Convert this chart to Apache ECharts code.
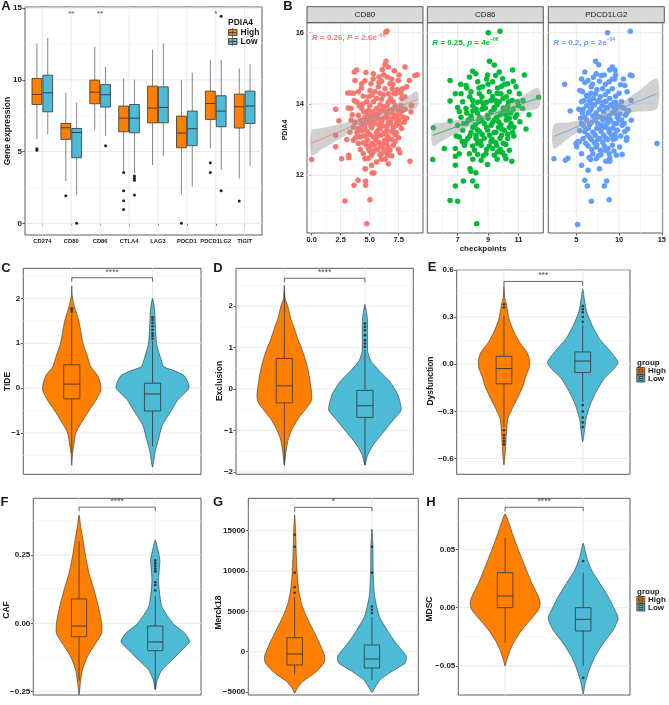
<!DOCTYPE html>
<html>
<head>
<meta charset="utf-8">
<script src="https://cdn.jsdelivr.net/npm/echarts@6/dist/echarts.min.js"></script>
<style>
html,body{margin:0;padding:0;background:#fff}
#main{width:669px;height:705px}
</style>
</head>
<body>
<div id="main"></div>
<script>
// ---------- data ----------
// A: checkpoint expression, [lower whisker, q1, median, q3, upper whisker]
const genes = ['CD274','CD80','CD86','CTLA4','LAG3','PDCD1','PDCD1LG2','TIGIT']
const geneHighBox = [
  [5.85,8.28,8.98,10.09,12.53],[2.95,5.85,6.66,6.96,9.09],[6.5,8.33,9.14,9.98,12.3],[3.6,6.38,7.33,8.17,10.1],
  [4.06,7.0,8.03,9.56,12.1],[2.02,5.27,6.29,7.47,9.98],[5.22,7.24,8.35,9.21,11.37],[3.13,6.64,8.12,9.0,10.79]
]
const geneLowBox = [
  [6.2,7.77,9.09,10.32,12.92],[1.97,4.57,6.33,6.61,8.4],[6.08,8.1,8.96,9.67,10.9],[3.5,6.31,7.33,8.28,10.0],
  [4.7,7.0,8.07,9.51,12.53],[2.55,5.41,6.59,7.82,10.49],[3.71,6.73,7.82,8.89,11.4],[3.99,6.96,8.17,9.21,11.09]
]
// [gene number, group (0 High, 1 Low), value]
const geneOutliers = [
  [1,0,5.2],[1,0,5.1],[2,0,1.93],[2,1,0],[3,1,5.4],[4,0,3.55],[4,0,2.27],[4,0,1.58],[4,0,0.97],
  [4,1,3.3],[4,1,3.15],[4,1,3.0],[4,1,1.97],[6,0,0],[7,0,4.22],[7,0,3.55],[7,1,14.43],[7,1,2.27],[8,0,1.55]
]
const geneSig = [[2,'**'],[3,'**'],[7,'*']]

// B: PDIA4 vs checkpoints
const cd80Pts = [
[6.4,16.02],[6.5,16.05],[0,12.44],[2.07,13.85],[2.35,13.53],[2.07,13.12],[2.07,12.8],[2.58,12.46],[3.2,12.56],[3.2,12.49],[2.87,11.28],[3.65,11.72],[4.0,11.86],[4.65,11.83],[4.65,11.72],[4.74,10.64],[5.03,11.31],[4.6,12.18],[5.23,12.06],[5.37,12.06],[8.47,12.39],[8.9,14.8],[9.1,14.82],[8.42,14.66],[8.2,14.48],[8.04,14.2],[8.6,13.96],[8.56,13.78],
[3.68,14.9],[3.88,14.95],[4.68,14.88],[5.32,14.85],[6.09,14.97],[6.41,15.2],[6.32,15.1],[6.61,15.04],[7.13,14.93],[6.52,14.76],[5.8,14.76],[3.74,14.66],[4.31,14.57],[5.11,14.57],[6.03,14.64],[6.75,14.57],[7.47,14.66],[8.05,15.04],[7.53,14.81],[6.95,14.43],[7.24,14.29],[3.1,14.31],[3.3,14.31],[3.68,14.1],[3.39,13.87],[3.16,13.89],[4.02,14.34],[4.45,14.22],[5.03,14.38],[5.46,14.34],[5.75,14.48],[6.32,14.43],[6.61,14.29],[4.74,14.06],[5.32,14.06],[6.03,14.13],[7.04,14.06],[7.76,14.15],[7.82,14.43],
[4.31,13.87],[4.89,13.82],[5.6,13.87],[6.18,13.92],[6.75,13.82],[7.47,13.82],[8.05,13.85],[4.02,13.68],[4.6,13.63],[5.17,13.68],[5.75,13.73],[6.47,13.68],[7.18,13.68],[7.9,13.63],[3.74,13.49],[4.31,13.45],[4.89,13.49],[5.46,13.45],[6.03,13.51],[6.61,13.49],[7.33,13.49],[7.99,13.49],[4.02,13.31],[4.6,13.29],[5.17,13.33],[5.89,13.31],[6.47,13.26],[7.04,13.33],[7.76,13.31],[3.59,13.35],[3.3,13.21],
[4.17,13.07],[4.74,13.12],[5.32,13.07],[5.98,13.12],[6.61,13.07],[7.18,13.14],[3.59,12.98],[3.02,13.0],[4.45,12.91],[5.17,12.89],[5.75,12.93],[6.47,12.89],[7.04,12.84],[4.89,12.75],[5.46,12.7],[6.18,12.75],[6.75,12.7],[7.47,12.73],[4.45,12.6],[5.17,12.56],[5.89,12.58],[6.55,12.56],[7.61,12.63],[4.6,12.46],[5.6,12.37],[6.32,12.45],[4.66,12.18],[5.17,12.28],[6.61,12.32],[6.03,12.6],[4.02,12.89],
[4.9,14.2],[5.6,14.15],[6.2,14.25],[6.8,14.15],[5.0,13.95],[5.9,13.98],[6.5,13.95],[7.2,13.95],[4.5,13.78],[5.3,13.78],[6.0,13.82],[6.9,13.75],[7.6,13.72],[4.7,13.55],[5.5,13.58],[6.2,13.6],[6.9,13.58],[7.5,13.55],[4.4,13.4],[5.1,13.38],[5.8,13.42],[6.5,13.38],[7.3,13.4],[4.8,13.22],[5.6,13.2],[6.2,13.18],[6.9,13.22],[4.5,13.1],[5.5,13.0],[6.3,12.98],[6.9,13.0],[5.0,12.8],[5.9,12.82],[6.6,12.78],[4.2,12.72],[5.3,12.65],[6.9,12.55],[3.9,14.05],[4.3,14.45],[5.8,14.6],[6.9,14.7],[7.4,14.4],[3.5,13.7],[3.9,13.2],
[4.4,14.0],[5.2,14.25],[5.9,14.3],[6.6,14.05],[7.1,14.3],[7.7,13.95],[4.1,13.95],[4.8,13.7],[5.5,13.7],[6.4,13.8],[7.0,13.85],[7.8,13.8],[4.2,13.55],[5.0,13.6],[5.8,13.58],[6.6,13.6],[7.3,13.62],[8.2,13.6],[4.6,13.42],[5.3,13.5],[6.1,13.38],[6.8,13.45],[7.6,13.45],[4.3,13.25],[5.0,13.15],[5.7,13.25],[6.4,13.15],[7.3,13.2],[4.0,13.1],[4.8,12.98],[5.6,13.08],[6.5,13.0],[7.5,13.05],[4.7,12.85],[5.4,12.85],[6.1,12.88],[7.2,12.95],[5.0,12.68],[5.7,12.72],[6.4,12.65],[4.9,12.48],[6.0,12.45],[3.6,14.3],[4.6,14.65],[5.3,14.7],[6.2,14.82],[7.0,14.55],[7.7,14.3],[3.8,13.05],[3.4,13.55]
]
const cd86Pts = [
[9.02,16.0],[9.79,16.04],[6.5,14.66],[6.5,14.08],[6.5,13.52],[5.4,13.33],[5.36,12.44],[6.12,12.75],[6.85,12.75],[6.85,12.53],[6.85,12.28],[6.5,11.29],[7.0,11.27],[6.85,11.7],[7.37,11.84],[7.81,12.18],[7.88,12.11],[8.2,12.07],[7.99,11.84],[8.25,11.7],[8.25,10.64],[12.33,14.19],[11.39,14.81],[10.62,14.95],[10.66,14.64],[10.84,14.48],[10.57,12.39],[10.18,12.46],[8.97,12.3],[8.54,12.42],[9.63,12.65],[6.85,14.29],[7.22,14.29],[7.11,13.79],
[9.09,15.2],[9.41,15.09],[7.99,14.92],[8.2,14.85],[7.77,14.76],[8.32,14.62],[8.97,14.81],[9.74,14.9],[9.96,14.71],[9.3,14.62],[10.29,14.57],[7.55,14.52],[8.64,14.48],[9.63,14.45],[7.88,14.34],[8.43,14.29],[9.08,14.34],[9.85,14.29],[10.4,14.34],[11.06,14.29],
[7.33,14.06],[7.99,14.1],[8.54,14.06],[9.19,14.1],[9.74,14.06],[10.36,14.06],[10.95,14.06],[7.55,13.87],[8.21,13.85],[8.82,13.89],[9.41,13.85],[10.0,13.89],[10.66,13.85],[11.28,13.87],[7.22,13.63],[7.88,13.66],[8.43,13.63],[8.97,13.68],[9.57,13.63],[10.18,13.68],[10.79,13.63],[7.55,13.45],[8.16,13.42],[8.75,13.45],[9.3,13.48],[9.85,13.42],[10.51,13.45],[7.33,13.26],[7.88,13.21],[8.43,13.23],[8.97,13.26],[9.52,13.21],[10.07,13.26],[10.62,13.21],[7.11,13.07],[7.66,13.03],[8.21,13.03],[8.75,13.04],[9.26,13.0],[9.79,13.04],[10.29,13.03],[7.44,12.84],[7.99,12.82],[8.54,12.84],[9.08,12.82],[9.57,12.84],[10.18,12.86],[7.77,12.6],[8.32,12.58],[8.86,12.6],[9.41,12.56],[9.96,12.63],[10.4,12.7],
[8.6,14.2],[9.3,14.2],[10.0,14.15],[8.0,13.95],[8.7,13.95],[9.6,13.97],[10.3,13.95],[8.3,13.75],[9.2,13.78],[10.0,13.78],[10.5,13.75],[7.7,13.55],[8.6,13.55],[9.4,13.55],[10.2,13.55],[8.0,13.35],[8.9,13.35],[9.7,13.35],[10.4,13.35],[8.2,13.12],[9.1,13.12],[9.9,13.12],[8.5,12.95],[9.5,12.92],[8.9,12.72],[9.8,12.72],[7.6,14.45],[9.9,14.5],[11.0,13.95],[11.1,13.5],[7.0,13.4],[7.3,12.95],[10.7,13.1],
[8.4,14.45],[9.0,14.55],[9.6,14.3],[10.2,14.2],[7.8,14.2],[8.3,14.05],[8.9,14.05],[9.5,14.1],[10.6,14.1],[7.6,13.75],[8.0,13.8],[8.6,13.85],[9.4,13.9],[9.8,13.7],[10.3,13.8],[7.9,13.6],[8.4,13.5],[9.0,13.6],[9.7,13.5],[10.4,13.6],[10.9,13.7],[7.4,13.45],[8.3,13.28],[9.2,13.4],[9.9,13.3],[10.7,13.35],[7.8,13.1],[8.6,13.15],[9.4,13.2],[10.3,13.15],[7.5,12.95],[8.3,12.9],[9.2,12.95],[10.0,12.9],[8.1,12.7],[8.7,12.55],[9.3,12.75],[10.1,12.55],[8.0,12.45],[9.6,12.45],[8.9,14.7],[9.5,14.8],[10.1,14.55],[7.2,14.55],[11.3,14.1],[11.5,13.3],[11.7,13.7],[7.0,13.9],[6.9,13.1],[7.1,12.6]
]
const pdl2Pts = [
[8.65,16.0],[11.31,16.04],[3.63,14.55],[4.28,13.8],[2.38,12.46],[3.71,12.42],[4.01,12.48],[14.43,12.89],[11.31,14.81],[11.5,14.79],[5.15,10.62],[6.75,11.27],[8.84,11.31],[8.27,11.7],[8.54,11.84],[6.29,11.7],[5.99,11.86],[5.61,12.28],[6.37,12.14],[7.7,12.18],[6.67,12.44],[8.46,12.39],[8.92,12.39],[10.36,12.58],[10.86,12.98],[11.43,13.54],[11.12,13.82],[5.04,12.8],[4.96,12.89],[5.34,12.93],[10.67,14.52],[10.93,14.34],[5.42,14.38],
[7.24,15.2],[7.62,15.1],[5.99,14.9],[7.32,14.85],[9.22,15.04],[9.52,14.95],[8.27,14.81],[9.6,14.82],[6.37,14.66],[7.7,14.64],[8.84,14.62],[10.17,14.54],[5.72,14.34],[6.75,14.48],[8.08,14.43],[9.22,14.43],[6.18,14.24],[7.24,14.29],[8.38,14.26],[9.6,14.22],
[5.61,14.06],[6.56,14.07],[7.51,14.06],[8.46,14.07],[9.41,14.04],[10.29,14.06],[5.8,13.85],[6.75,13.87],[7.7,13.85],[8.65,13.89],[9.6,13.85],[10.55,13.89],[5.99,13.63],[6.94,13.66],[7.89,13.63],[8.84,13.66],[9.79,13.63],[10.74,13.68],[5.61,13.45],[6.56,13.42],[7.51,13.45],[8.46,13.42],[9.41,13.45],[10.36,13.4],[5.99,13.23],[6.94,13.21],[7.89,13.23],[8.84,13.21],[9.79,13.26],[10.67,13.23],[5.8,13.03],[6.75,13.0],[7.7,13.03],[8.65,13.0],[9.6,13.04],[6.37,12.82],[7.32,12.79],[8.27,12.82],[9.22,12.84],[10.06,12.79],[6.94,12.6],[7.89,12.58],[8.84,12.6],[9.68,12.56],[7.32,12.46],
[6.4,14.2],[7.0,14.15],[7.8,14.2],[8.9,14.15],[6.2,13.95],[7.1,13.97],[8.0,13.95],[9.0,13.97],[9.9,13.95],[6.4,13.75],[7.3,13.75],[8.2,13.78],[9.2,13.75],[10.1,13.72],[6.2,13.55],[7.2,13.55],[8.1,13.55],[9.0,13.55],[10.0,13.55],[6.4,13.32],[7.4,13.32],[8.3,13.35],[9.3,13.32],[10.2,13.1],[6.3,13.12],[7.2,13.12],[8.2,13.12],[9.1,13.12],[7.1,12.92],[8.1,12.92],[6.8,12.72],[7.8,12.7],[8.7,12.75],[5.5,13.6],[5.4,13.25],[5.2,12.95],[11.0,13.3],[10.9,13.75],[6.0,14.6],[8.9,14.95],[9.5,14.7],[7.0,14.75],
[6.7,14.3],[7.4,14.4],[8.2,14.05],[8.7,14.35],[9.6,14.05],[10.0,14.3],[5.9,14.1],[6.8,14.0],[7.6,14.1],[8.5,13.9],[9.4,13.9],[10.4,13.9],[5.7,13.75],[6.6,13.82],[7.5,13.65],[8.5,13.6],[9.5,13.75],[10.3,13.55],[5.8,13.4],[6.8,13.48],[7.7,13.35],[8.7,13.48],[9.7,13.45],[10.6,13.45],[6.1,13.3],[7.0,13.2],[7.9,13.4],[8.8,13.3],[9.5,13.15],[6.6,13.05],[7.5,13.0],[8.4,13.05],[9.3,13.0],[6.1,12.9],[7.4,12.85],[8.4,12.7],[9.4,12.68],[6.5,12.5],[7.6,12.55],[8.9,12.48],[6.9,14.55],[7.9,14.8],[8.4,14.55],[9.2,14.7],[5.6,14.7],[10.5,14.7],[11.4,14.1],[5.3,13.85],[10.9,13.05],[5.6,12.6]
]
// linear fit: [x, fit, lower 95%, upper 95%]
const cd80Fit = [[0,12.9,12.56,13.24],[1,13.04,12.75,13.33],[2,13.17,12.94,13.4],[3,13.31,13.13,13.49],[4,13.44,13.31,13.57],[5,13.58,13.49,13.67],[6,13.71,13.63,13.79],[7,13.85,13.74,13.96],[8,13.98,13.82,14.14],[9.1,14.13,13.91,14.35]]
const cd86Fit = [[5.36,13.12,12.82,13.42],[6,13.22,12.97,13.47],[7,13.37,13.2,13.54],[8,13.52,13.42,13.62],[9,13.67,13.6,13.74],[10,13.82,13.72,13.92],[11,13.97,13.79,14.15],[12.33,14.17,13.9,14.44]]
const pdl2Fit = [[2.38,13.09,12.76,13.42],[4,13.25,13.02,13.48],[6,13.45,13.33,13.57],[8,13.65,13.58,13.72],[10,13.85,13.71,13.99],[12,14.05,13.78,14.32],[14.43,14.29,13.87,14.71]]

// C-H: violin outlines [value, half width], boxes [low, q1, median, q3, high] for High then Low, outliers [group, value]
const tideHigh = [[2.28,0],[2.06,0.006],[1.84,0.03],[1.48,0.09],[0.99,0.14],[0.73,0.19],[0.48,0.235],[0.28,0.32],[0.1,0.355],[-0.05,0.36],[-0.27,0.3],[-0.51,0.21],[-0.83,0.1],[-1.0,0.05],[-1.27,0.025],[-1.45,0.01],[-1.72,0]]
const tideLow = [[2.0,0],[1.76,0.025],[1.48,0.033],[1.24,0.04],[0.99,0.05],[0.73,0.09],[0.48,0.14],[0.38,0.28],[0.28,0.39],[0.1,0.445],[-0.01,0.45],[-0.27,0.31],[-0.51,0.23],[-0.83,0.12],[-1.13,0.075],[-1.42,0.033],[-1.76,0]]
const tideBox = [[-1.45,-0.24,0.09,0.52,1.65],[-1.3,-0.51,-0.13,0.11,1.05]]
const tideOut = [[1,1.7],[1,1.75],[1,1.78],[2,1.1],[2,1.16],[2,1.22],[2,1.3],[2,1.38],[2,1.45],[2,1.52],[2,1.58]]

const exclHigh = [[2.5,0],[2.18,0.01],[2.02,0.04],[1.7,0.08],[1.46,0.125],[1.22,0.165],[0.98,0.215],[0.74,0.257],[0.5,0.29],[0.18,0.32],[-0.14,0.34],[-0.3,0.33],[-0.5,0.257],[-0.7,0.175],[-0.95,0.1],[-1.19,0.05],[-1.51,0.02],[-1.83,0]]
const exclLow = [[2.04,0],[1.7,0.03],[1.3,0.033],[0.9,0.035],[0.66,0.08],[0.42,0.19],[0.18,0.31],[-0.14,0.41],[-0.5,0.45],[-0.7,0.37],[-1.03,0.23],[-1.35,0.1],[-1.59,0.033],[-1.83,0]]
const exclBox = [[-1.83,-0.33,0.08,0.74,2.34],[-1.83,-0.68,-0.4,-0.03,0.95]]
const exclOut = [[2,1.02],[2,1.1],[2,1.18],[2,1.3],[2,1.42],[2,1.5],[2,1.58]]

const dysHigh = [[0.5,0],[0.42,0.01],[0.375,0.034],[0.29,0.063],[0.205,0.127],[0.13,0.21],[0.078,0.29],[0.025,0.326],[-0.028,0.317],[-0.08,0.275],[-0.134,0.245],[-0.197,0.19],[-0.26,0.127],[-0.345,0.05],[-0.45,0.03],[-0.56,0.017],[-0.64,0]]
const dysLow = [[0.477,0],[0.418,0.02],[0.333,0.05],[0.248,0.118],[0.163,0.21],[0.089,0.34],[0.036,0.423],[0.01,0.45],[-0.028,0.4],[-0.09,0.275],[-0.176,0.17],[-0.26,0.093],[-0.345,0.042],[-0.43,0.02],[-0.494,0]]
const dysBox = [[-0.4,-0.125,-0.028,0.05,0.31],[-0.24,-0.053,0.02,0.078,0.25]]
const dysOut = [[1,0.36],[1,0.38],[1,-0.42],[1,-0.45],[1,-0.47],[1,-0.49],[1,-0.51],[2,0.27],[2,0.3],[2,0.33],[2,0.35],[2,0.37],[2,-0.26],[2,-0.3],[2,-0.34],[2,-0.37],[2,-0.4]]

const cafHigh = [[0.396,0],[0.354,0.022],[0.305,0.052],[0.244,0.087],[0.183,0.131],[0.122,0.197],[0.061,0.254],[0,0.297],[-0.037,0.297],[-0.073,0.219],[-0.122,0.109],[-0.171,0.044],[-0.22,0.017],[-0.262,0]]
const cafLow = [[0.305,0],[0.268,0.035],[0.232,0.061],[0.195,0.052],[0.159,0.044],[0.122,0.052],[0.061,0.087],[0,0.23],[-0.037,0.39],[-0.067,0.45],[-0.098,0.35],[-0.134,0.219],[-0.171,0.087],[-0.207,0.026],[-0.244,0]]
const cafBox = [[-0.21,-0.049,-0.01,0.089,0.3],[-0.24,-0.1,-0.068,-0.01,0.1]]
const cafOut = [[2,0.12],[2,0.14],[2,0.15],[2,0.19],[2,0.2],[2,0.21],[2,0.22],[2,0.23]]

const merckHigh = [[16975,0],[14700,0.013],[11800,0.022],[9330,0.035],[7680,0.052],[6030,0.086],[4380,0.15],[2730,0.237],[1070,0.32],[-580,0.39],[-1400,0.38],[-2640,0.26],[-3680,0.108],[-4500,0.035],[-5120,0]]
const merckLow = [[15200,0],[13050,0.013],[9750,0.017],[6860,0.035],[4380,0.095],[2730,0.194],[1070,0.31],[-580,0.444],[-1400,0.43],[-2440,0.26],[-3470,0.108],[-4500,0.035],[-5040,0]]
const merckBox = [[-2850,-1650,-290,1735,6800],[-3500,-2020,-910,830,4300]]
const merckOut = [[1,7300],[1,8000],[1,9800],[1,13000],[1,14500],[2,4800],[2,5200],[2,5600],[2,9800],[2,13000]]

const mdscHigh = [[0.0803,0],[0.0723,0.05],[0.0609,0.107],[0.0494,0.171],[0.0351,0.256],[0.0209,0.342],[0.0094,0.427],[0.0037,0.449],[-0.002,0.427],[-0.0106,0.32],[-0.0191,0.214],[-0.0277,0.128],[-0.0363,0.064],[-0.0449,0.021],[-0.05,0]]
const mdscLow = [[0.0551,0],[0.0437,0.043],[0.0323,0.107],[0.0209,0.214],[0.0094,0.32],[-0.002,0.406],[-0.0091,0.449],[-0.0191,0.385],[-0.0306,0.256],[-0.042,0.15],[-0.0534,0.077],[-0.0649,0.026],[-0.074,0]]
const mdscBox = [[-0.03,0,0.01,0.03,0.06],[-0.05,-0.02,-0.01,0,0.03]]
const mdscOut = [[2,0.04],[2,-0.06]]

// ---------- helpers ----------
const FONT = '"Liberation Sans", Arial, Helvetica, sans-serif'
const ORANGE = '#FF8000', BLUE = '#4DBBD5'
const grids = [], xAxes = [], yAxes = [], series = [], graphics = []

function fmt(ticks, labels) {
  return v => {
    const i = ticks.findIndex(t => Math.abs(t - v) <= 1e-6 * Math.max(1, Math.abs(t)))
    return i >= 0 ? labels[i] : ''
  }
}
function axisDef(gi, min, max, ticks, labels, size, weight) {
  const has = !!ticks
  return {
    type: 'value', gridIndex: gi, min: min, max: max,
    splitLine: {show: false}, axisLine: {show: false},
    axisTick: {show: has, length: 2.5, customValues: ticks || undefined, lineStyle: {color: '#333', width: 0.8}},
    axisLabel: {show: has, customValues: ticks || undefined, margin: 3, color: '#1a1a1a', fontFamily: FONT,
      fontSize: size || 8, fontWeight: weight || 'bold', formatter: has ? fmt(ticks, labels) : undefined}
  }
}
function addPanel(p) {
  const gi = grids.length
  grids.push({left: p.left, top: p.top, width: p.width, height: p.height, show: true,
    backgroundColor: '#fff', borderColor: '#333', borderWidth: 0.8})
  xAxes.push(axisDef(gi, p.xMin, p.xMax, p.xTicks, p.xLabels, p.xSize, p.xWeight))
  yAxes.push(axisDef(gi, p.yMin, p.yMax, p.yTicks, p.yLabels, p.ySize, p.yWeight))
  const lines = []
  ;(p.yMajor || []).forEach(v => lines.push([v, 0]))
  ;(p.yMinor || []).forEach(v => lines.push([v, 1]))
  ;(p.xMajor || []).forEach(v => lines.push([v, 2]))
  ;(p.xMinor || []).forEach(v => lines.push([v, 3]))
  series.push({
    type: 'custom', xAxisIndex: gi, yAxisIndex: gi, silent: true, z: 1, data: lines,
    renderItem: (params, api) => {
      const cs = params.coordSys, v = api.value(0), k = api.value(1)
      const style = {stroke: (k === 0 || k === 2) ? '#E8E8E8' : '#F2F2F2', lineWidth: (k === 0 || k === 2) ? 0.9 : 0.6}
      if (k < 2) {
        const y = api.coord([p.xMin, v])[1]
        return {type: 'line', shape: {x1: cs.x, y1: y, x2: cs.x + cs.width, y2: y}, style}
      }
      const x = api.coord([v, p.yMin])[0]
      return {type: 'line', shape: {x1: x, y1: cs.y, x2: x, y2: cs.y + cs.height}, style}
    }
  })
  return gi
}
// box: data items [x, low, q1, med, q3, high, halfWidth]
function boxSeries(gi, items, fill, whisker, z) {
  series.push({
    type: 'custom', xAxisIndex: gi, yAxisIndex: gi, silent: true, z: z || 4, data: items,
    renderItem: (params, api) => {
      const x = api.value(0), lo = api.value(1), q1 = api.value(2), med = api.value(3),
        q3 = api.value(4), hi = api.value(5), hw = api.value(6)
      const c = v => api.coord([x, v])
      const pl = api.coord([x - hw, q3]), pr = api.coord([x + hw, q1]), pm = c(med)
      return {type: 'group', children: [
        {type: 'line', shape: {x1: c(hi)[0], y1: c(hi)[1], x2: c(q3)[0], y2: c(q3)[1]}, style: {stroke: whisker, lineWidth: 0.8}},
        {type: 'line', shape: {x1: c(q1)[0], y1: c(q1)[1], x2: c(lo)[0], y2: c(lo)[1]}, style: {stroke: whisker, lineWidth: 0.8}},
        {type: 'rect', shape: {x: pl[0], y: pl[1], width: pr[0] - pl[0], height: pr[1] - pl[1]},
          style: {fill: fill, stroke: '#333', lineWidth: 0.8}},
        {type: 'line', shape: {x1: pl[0], y1: pm[1], x2: pr[0], y2: pm[1]}, style: {stroke: '#333', lineWidth: 0.9}}
      ]}
    }
  })
}
function violinSeries(gi, x, prof, fill) {
  series.push({
    type: 'custom', xAxisIndex: gi, yAxisIndex: gi, silent: true, z: 3, data: [[x, prof[0][0]]],
    renderItem: (params, api) => {
      const cx = api.value(0)
      const right = prof.map(d => api.coord([cx + d[1], d[0]]))
      const left = prof.slice(1, -1).reverse().map(d => api.coord([cx - d[1], d[0]]))
      return {type: 'polygon', shape: {points: right.concat(left), smooth: 0.2},
        style: {fill: fill, stroke: '#333', lineWidth: 0.6}}
    }
  })
}
function dots(gi, data, size, color, z) {
  series.push({type: 'scatter', xAxisIndex: gi, yAxisIndex: gi, silent: true, z: z || 5,
    symbolSize: size, itemStyle: {color: color, opacity: 1}, data: data})
}
function textAt(gi, x, y, txt, size) {
  series.push({type: 'scatter', xAxisIndex: gi, yAxisIndex: gi, silent: true, z: 6, symbolSize: 1,
    itemStyle: {color: 'rgba(0,0,0,0)'}, data: [[x, y]],
    label: {show: true, position: 'inside', formatter: txt, fontSize: size || 8, color: '#222', fontFamily: FONT}})
}
function gText(x, y, text, size, weight, opt) {
  const o = opt || {}
  graphics.push({type: 'text', x: x, y: y, rotation: o.rot || 0, z: 100, silent: true,
    style: {text: text, fill: o.color || '#1a1a1a', font: (weight || 'bold') + ' ' + size + 'px ' + FONT,
      align: o.align || 'center', verticalAlign: 'middle', textAlign: o.align || 'center', textVerticalAlign: 'middle',
      rich: o.rich}})
}
function gRect(x, y, w, h, fill, stroke) {
  graphics.push({type: 'rect', z: 100, silent: true, shape: {x: x, y: y, width: w, height: h},
    style: {fill: fill, stroke: stroke || '#333', lineWidth: 0.8}})
}
function gLine(x1, y1, x2, y2, color) {
  graphics.push({type: 'line', z: 101, silent: true, shape: {x1: x1, y1: y1, x2: x2, y2: y2},
    style: {stroke: color || '#333', lineWidth: 0.8}})
}

// ---------- panel A ----------
const gA = addPanel({left: 25, top: 7, width: 237, height: 228, xMin: 0.4, xMax: 8.6, yMin: -0.81, yMax: 15.07,
  xTicks: [1,2,3,4,5,6,7,8], xLabels: genes, xSize: 5.8, xWeight: 'bold',
  yTicks: [0,5,10,15], yLabels: ['0','5','10','15'],
  yMajor: [0,5,10,15], yMinor: [2.5,7.5,12.5], xMajor: [1,2,3,4,5,6,7,8]})
boxSeries(gA, geneHighBox.map((b, i) => [i + 1 - 0.1875].concat(b, [0.17])), ORANGE, '#666')
boxSeries(gA, geneLowBox.map((b, i) => [i + 1 + 0.1875].concat(b, [0.17])), BLUE, '#666')
dots(gA, geneOutliers.map(o => [o[0] + (o[1] ? 0.1875 : -0.1875), o[2]]), 3, '#222')
geneSig.forEach(s => textAt(gA, s[0], 14.62, s[1], 8))

// ---------- panel B ----------
const bPanels = [
  {name: 'CD80', left: 307, xMin: -0.4, xMax: 9.6, ticks: [0,2.5,5,7.5], labels: ['0.0','2.5','5.0','7.5'], minor: [1.25,3.75,6.25,8.75],
    pts: cd80Pts, fit: cd80Fit, color: '#F8766D', r: '0.26', pl: 'P', p: '2.6e', e: '\u221206', ty: 38},
  {name: 'CD86', left: 427.3, xMin: 5.0, xMax: 12.64, ticks: [7,9,11], labels: ['7','9','11'], minor: [6,8,10,12],
    pts: cd86Pts, fit: cd86Fit, color: '#00BA38', r: '0.25', pl: 'p', p: '4e', e: '\u221206', ty: 42.5},
  {name: 'PDCD1LG2', left: 548.3, xMin: 1.72, xMax: 15.1, ticks: [5,10,15], labels: ['5','10','15'], minor: [2.5,7.5,12.5],
    pts: pdl2Pts, fit: pdl2Fit, color: '#619CFF', r: '0.2', pl: 'p', p: '2e', e: '\u221204', ty: 42.5}
]
bPanels.forEach((b, i) => {
  const gi = addPanel({left: b.left, top: 22.7, width: 116, height: 210.3, xMin: b.xMin, xMax: b.xMax, yMin: 10.38, yMax: 16.28,
    xTicks: b.ticks, xLabels: b.labels, xSize: 7.5,
    yTicks: i === 0 ? [12,14,16] : null, yLabels: ['12','14','16'], ySize: 7.5,
    yMajor: [12,14,16], yMinor: [11,13,15], xMajor: b.ticks, xMinor: b.minor})
  dots(gi, b.pts, 5.5, b.color, 3)
  const band = b.fit
  series.push({type: 'custom', xAxisIndex: gi, yAxisIndex: gi, silent: true, z: 4, data: [[band[0][0], band[0][1]]],
    renderItem: (params, api) => {
      const up = band.map(d => api.coord([d[0], d[3]]))
      const lo = band.slice().reverse().map(d => api.coord([d[0], d[2]]))
      return {type: 'polygon', shape: {points: up.concat(lo), smooth: 0.3}, style: {fill: 'rgba(153,153,153,0.45)'}}
    }})
  series.push({type: 'line', xAxisIndex: gi, yAxisIndex: gi, silent: true, z: 5, symbol: 'none',
    lineStyle: {color: b.color, width: 0.8}, data: band.map(d => [d[0], d[1]])})
  gRect(b.left, 6.7, 116, 16, '#D9D9D9')
  gText(b.left + 58, 14.7, b.name, 8, 'normal')
  const st = {fontWeight: 'bold', fontSize: 8, color: b.color, fill: b.color, fontFamily: FONT, lineHeight: 10}
  gText(b.left + 5, b.ty, '{i|R}{n| = ' + b.r + ', }{i|' + b.pl + '}{n| = ' + b.p + '}{s|' + b.e + '}', 8, 'bold',
    {align: 'left', color: b.color, rich: {
      i: Object.assign({}, st, {fontStyle: 'italic'}),
      n: st,
      s: Object.assign({}, st, {fontSize: 5, lineHeight: 6, verticalAlign: 'top'})}})
})

// ---------- panels C-H ----------
const vPanels = [
  {left: 23.3, top: 268.3, width: 177.7, height: 206, yMin: -1.92, yMax: 2.67, ticks: [-1,0,1,2], labels: ['\u22121','0','1','2'],
    minor: [-1.5,-0.5,0.5,1.5,2.5], hi: tideHigh, lo: tideLow, box: tideBox, out: tideOut, br: [2.46,2.37,2.58], sig: '****'},
  {left: 236, top: 268.3, width: 177.3, height: 206, yMin: -2.05, yMax: 2.91, ticks: [-2,-1,0,1,2], labels: ['\u22122','\u22121','0','1','2'],
    minor: [-1.5,-0.5,0.5,1.5,2.5], hi: exclHigh, lo: exclLow, box: exclBox, out: exclOut, br: [2.67,2.57,2.8], sig: '****'},
  {left: 456.7, top: 269.8, width: 173.3, height: 204.5, yMin: -0.7, yMax: 0.6, ticks: [-0.6,-0.3,0,0.3,0.6], labels: ['\u22120.6','\u22120.3','0.0','0.3','0.6'],
    minor: [-0.45,-0.15,0.15,0.45], hi: dysHigh, lo: dysLow, box: dysBox, out: dysOut, br: [0.526,0.5,0.561], sig: '***'},
  {left: 33.3, top: 498.3, width: 167.7, height: 196.7, yMin: -0.262, yMax: 0.457, ticks: [-0.25,0,0.25], labels: ['\u22120.25','0.00','0.25'],
    minor: [-0.125,0.125,0.375], hi: cafHigh, lo: cafLow, box: cafBox, out: cafOut, br: [0.4245,0.41,0.4446], sig: '****'},
  {left: 248.3, top: 498.3, width: 170, height: 196.7, yMin: -5372, yMax: 19020, ticks: [-5000,0,5000,10000,15000], labels: ['\u22125000','0','5000','10000','15000'],
    minor: [-2500,2500,7500,12500,17500], hi: merckHigh, lo: merckLow, box: merckBox, out: merckOut, br: [17900,17400,18580], sig: '*'},
  {left: 458.3, top: 498.3, width: 171.7, height: 196.7, yMin: -0.0748, yMax: 0.0937, ticks: [-0.05,0,0.05], labels: ['\u22120.05','0.00','0.05'],
    minor: [-0.025,0.025,0.075], hi: mdscHigh, lo: mdscLow, box: mdscBox, out: mdscOut, br: [0.086,0.0826,0.0907], sig: '****'}
]
vPanels.forEach(v => {
  const gi = addPanel({left: v.left, top: v.top, width: v.width, height: v.height, xMin: 0.4, xMax: 2.6, yMin: v.yMin, yMax: v.yMax,
    xTicks: null, yTicks: v.ticks, yLabels: v.labels, yMajor: v.ticks, yMinor: v.minor, xMajor: [1,2]})
  violinSeries(gi, 1, v.hi, ORANGE)
  violinSeries(gi, 2, v.lo, BLUE)
  boxSeries(gi, [[1].concat(v.box[0], [0.1]), [2].concat(v.box[1], [0.1])], 'rgba(0,0,0,0)', '#333', 4)
  dots(gi, v.out, 2.6, '#333', 5)
  series.push({type: 'line', xAxisIndex: gi, yAxisIndex: gi, silent: true, z: 5, symbol: 'none',
    lineStyle: {color: '#444', width: 0.8}, data: [[1, v.br[1]], [1, v.br[0]], [2, v.br[0]], [2, v.br[1]]]})
  textAt(gi, 1.5, v.br[2], v.sig, 8.5)
})

// ---------- titles, letters, legends ----------
gText(6, 6.5, 'A', 13); gText(288, 6.5, 'B', 13); gText(6, 268, 'C', 13); gText(218, 268, 'D', 13)
gText(432, 267, 'E', 13); gText(4.5, 502, 'F', 13); gText(218, 502, 'G', 13); gText(431, 502.5, 'H', 13)
const R = Math.PI / 2
gText(7.5, 131, 'Gene expression', 8.5, 'bold', {rot: R})
gText(285, 130, 'PDIA4', 7, 'bold', {rot: R})
gText(483, 249, 'checkpoints', 8, 'bold')
gText(7.5, 381.5, 'TIDE', 8.5, 'bold', {rot: R})
gText(220, 381, 'Exclusion', 8.5, 'bold', {rot: R})
gText(430.3, 381, 'Dysfunction', 8.5, 'bold', {rot: R})
gText(7, 610, 'CAF', 8.5, 'bold', {rot: R})
gText(218.8, 612.5, 'Merck18', 8.5, 'bold', {rot: R})
gText(429.7, 609, 'MDSC', 8.5, 'bold', {rot: R})

// legend A
gText(228, 22.5, 'PDIA4', 8.5, 'bold', {align: 'left'})
;[[ORANGE, 'High', 29.5], [BLUE, 'Low', 38.5]].forEach(k => {
  gLine(232.5, k[2] - 1.5, 232.5, k[2] + 7.5, '#555')
  gRect(228.5, k[2], 8.5, 6, k[0])
  gLine(228.5, k[2] + 3, 237, k[2] + 3)
  gText(240.5, k[2] + 3, k[1], 8.5, 'bold', {align: 'left'})
})
// legends E and H
;[362.5, 591.5].forEach(y0 => {
  gText(637, y0, 'group', 8, 'bold', {align: 'left'})
  ;[[ORANGE, 'High', y0 + 5], [BLUE, 'Low', y0 + 12.5]].forEach(k => {
    gRect(636.8, k[2], 8, 7, k[0])
    gRect(638.8, k[2] + 1.5, 4, 4, 'rgba(0,0,0,0)')
    gLine(638.8, k[2] + 3.5, 642.8, k[2] + 3.5)
    gText(648, k[2] + 3.5, k[1], 8, 'bold', {align: 'left'})
  })
})

const chart = echarts.init(document.getElementById('main'), null, {renderer: 'canvas'})
chart.setOption({
  animation: false,
  backgroundColor: '#fff',
  grid: grids,
  xAxis: xAxes,
  yAxis: yAxes,
  series: series,
  graphic: {elements: graphics}
})
</script>
</body>
</html>
